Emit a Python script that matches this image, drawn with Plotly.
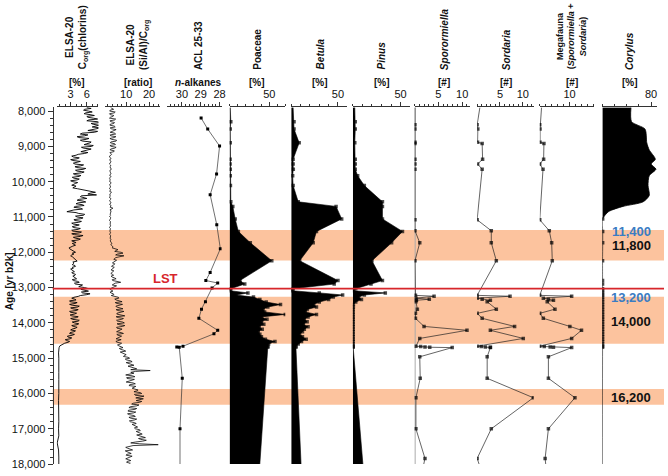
import plotly.graph_objects as go

W, H = 668, 476

# ---------------- DATA ----------------
# ELSA-20 Corg (chlorins) [%]: samples every 50 yr from 7900, plus offset samples from 7925
corg_start = 7900
corg_vals = [
    6.0, 5.6, 6.3, 5.8, 6.6, 6.0, 7.2, 6.4, 7.9, 6.8,
    8.3, 7.0, 7.8, 6.2, 7.4, 4.8, 5.6, 4.5, 5.9, 5.2,
    6.6, 5.5, 6.9, 5.4, 6.3, 4.9, 5.6, 4.0, 3.5, 4.2,
    3.4, 4.3, 3.8, 4.9, 4.1, 5.3, 4.2, 5.0, 3.7, 4.6,
    3.6, 4.2, 3.4, 3.9, 3.2, 3.7, 4.3, 5.9, 7.6, 6.2,
    5.0, 5.6, 4.6, 5.3, 4.4, 5.1, 3.9, 4.8, 3.6, 2.3,
    4.5, 5.4, 4.2, 4.8, 3.8, 4.5, 3.5, 4.1, 3.6, 4.4,
    3.4, 4.6, 3.7, 4.8, 3.9, 4.4, 3.6, 3.3, 3.9, 3.1,
    2.8, 3.4, 3.9, 3.6, 3.0, 3.5, 3.8, 4.2, 3.6, 3.3,
    3.9, 3.5, 3.2, 3.7, 3.4, 3.8, 3.6, 4.1, 3.5, 4.6,
    3.9, 4.8, 5.6, 4.9, 6.3, 5.2, 6.0, 4.4, 3.2, 4.0,
    2.9, 3.8, 3.3, 4.3, 3.4, 4.0, 3.0, 3.7, 3.2, 4.1,
    3.4, 4.4, 3.7, 4.2, 3.5, 3.9, 3.0, 3.6, 2.8, 3.3,
    2.5, 2.9, 2.2, 2.5, 1.6, 1.0, 0.85, 0.8, 0.8, 0.75,
]
corg_mid_start = 7925
corg_mid = [
    6.8, 5.4, 7.0, 5.5, 7.4, 6.2, 8.0, 6.0, 8.6, 7.2,
    7.4, 8.6, 6.5, 8.0, 5.2, 6.2, 4.2, 6.4, 4.8, 6.8,
    6.0, 7.2, 5.0, 6.8, 5.6, 6.2, 4.4, 3.2, 4.6, 3.0,
    4.8, 3.5, 5.4, 3.8, 5.8, 3.9, 5.5, 3.5, 4.9, 3.3,
    4.6, 3.0, 4.3, 3.5, 4.0, 3.4, 5.0, 7.0, 6.6, 7.8,
    4.8, 6.0, 4.2, 5.8, 4.0, 5.5, 3.6, 5.2, 2.8, 4.0,
    5.6, 3.9, 5.3, 3.6, 5.0, 3.2, 4.6, 3.3, 4.8, 3.2,
    5.0, 3.2, 5.3, 3.5, 4.8, 3.2, 4.0, 3.6, 3.4, 2.7,
    3.1, 3.6, 3.3, 3.2, 3.3, 3.7, 4.0, 3.4, 3.5, 3.8,
    3.3, 3.0, 3.5, 3.2, 3.9, 3.4, 3.9, 3.3, 4.3, 3.7,
    5.2, 4.5, 6.2, 5.5, 5.0, 6.6, 4.8, 3.6, 3.7, 2.8,
    4.2, 2.8, 4.6, 3.0, 4.4, 2.8, 4.1, 2.9, 4.4, 3.0,
    4.6, 3.3, 4.5, 3.2, 4.2, 3.3, 3.9, 2.9, 3.7, 2.4,
    3.2, 2.0, 2.8, 1.9, 1.3,
]
corg_tail_start = 15000
corg_tail = [0.8, 0.75, 0.8, 0.8, 0.85, 0.8, 0.75, 0.8, 0.8, 0.8, 0.75, 0.8, 0.5, 0.75, 0.8, 0.8]

# ELSA-20 (Si/Al)/Corg [ratio]: samples every 50 yr from 7900, plus offset samples from 7925
si_start = 7900
si_vals = [
    3.2, 4.5, 2.8, 4.8, 3.0, 4.2, 2.7, 5.0, 3.3, 4.6,
    2.9, 5.2, 3.4, 4.4, 3.0, 5.4, 3.2, 4.8, 3.6, 5.6,
    3.1, 5.3, 3.4, 5.0, 3.0, 4.6, 3.1, 3.3, 2.8, 3.4,
    2.9, 3.2, 2.7, 3.3, 3.0, 3.5, 2.8, 3.2, 2.9, 3.4,
    2.7, 3.1, 2.8, 3.3, 2.9, 3.2, 2.7, 3.0, 3.6, 2.8,
    3.1, 2.7, 3.2, 2.9, 3.4, 2.8, 3.1, 4.2, 2.9, 3.3,
    2.8, 3.2, 2.9, 3.1, 2.7, 3.0, 2.8, 3.2, 2.7, 3.0,
    2.9, 3.2, 2.8, 3.1, 3.0, 3.4, 3.1, 3.8, 3.5, 4.3,
    4.8, 5.6, 7.8, 6.2, 9.0, 5.5, 4.6, 5.3, 4.0, 4.8,
    3.6, 4.4, 3.4, 4.2, 3.3, 4.5, 3.8, 5.6, 4.1, 7.6,
    4.5, 5.8, 3.6, 3.0, 4.2, 3.3, 4.6, 5.2, 6.8, 5.6,
    8.2, 6.0, 7.4, 5.8, 8.6, 6.3, 7.8, 5.9, 9.4, 6.5,
    8.0, 6.2, 9.2, 6.8, 8.4, 6.0, 7.6, 5.8, 8.8, 6.4,
    7.2, 5.6, 7.0, 6.1, 7.4, 6.8, 8.6, 7.6, 9.8, 8.2,
    10.0, 8.8, 11.5, 10.2, 12.6, 11.0, 13.4, 11.8, 14.6, 20.5,
    12.0, 10.6, 12.8, 10.2, 13.6, 11.0, 13.0, 11.6, 14.2, 12.6,
    15.2, 13.4, 16.8, 14.0, 15.6, 17.5, 14.4, 15.8, 12.4, 14.6,
    11.2, 13.8, 10.8, 13.2, 11.4, 14.0, 12.0, 13.6, 11.8, 14.4,
    13.2, 15.0, 14.0, 16.2, 15.2, 17.0, 15.8, 18.4, 16.4, 17.2,
    12.0, 24.0, 11.0, 10.6, 12.8, 10.4, 12.2, 10.0, 11.6, 9.8,
    12.0, 10.2, 11.4,
]
si_mid_start = 7925
si_mid = [
    4.0, 3.0, 5.2, 2.7, 4.6, 3.1, 5.4, 2.9, 4.9, 3.0,
    4.8, 3.0, 5.6, 3.2, 4.9, 3.0, 5.5, 2.9, 5.8, 3.3,
    5.0, 2.9, 5.6, 3.2, 4.8, 2.9, 3.6, 2.7, 3.2, 2.8,
    3.4, 2.8, 3.1, 2.9, 3.3, 2.9, 3.0, 3.4, 2.8, 3.1,
    3.0, 2.9, 3.4, 2.8, 3.0, 2.9, 3.2, 2.8, 3.1, 3.0,
    2.9, 3.3, 2.8, 3.2, 2.9, 3.4, 3.0, 3.1, 3.4, 2.9,
    3.0, 2.8, 3.3, 2.9, 3.1, 2.9, 3.0, 2.8, 3.1, 2.8,
    3.0, 2.9, 3.2, 2.9, 3.2, 3.0, 3.5, 3.3, 4.0, 3.9,
    6.4, 5.0, 8.6, 5.4, 6.8, 4.9, 5.8, 4.3, 5.0, 3.9,
    4.8, 3.7, 4.6, 3.5, 4.0, 3.4, 4.9, 3.9, 6.0, 5.2,
    3.9, 4.6, 3.2, 3.8, 3.0, 4.4, 3.5, 6.6, 5.0, 7.6,
    5.2, 8.4, 5.5, 7.2, 5.6, 9.0, 6.0, 7.4, 5.6, 8.8,
    5.8, 8.4, 6.0, 9.4, 5.8, 8.2, 6.4, 7.8, 5.9, 8.0,
    6.4, 7.8, 5.5, 8.0, 6.2, 8.0, 7.0, 9.0, 7.4, 9.4,
    9.2, 10.8, 9.6, 12.0, 10.0, 12.4, 10.8, 13.0, 12.0, 14.0,
    13.4, 9.8, 13.8, 10.4, 12.2, 10.0, 14.0, 11.2, 13.4, 13.8,
    14.6, 16.2, 13.6, 17.8, 14.2, 15.0, 16.8, 13.2, 15.6, 11.8,
    14.6, 11.0, 14.2, 10.6, 13.4, 11.2, 14.6, 11.4, 13.6, 12.6,
    14.4, 13.6, 15.8, 14.4, 16.6, 14.6, 16.8, 15.4, 18.8, 14.0,
    16.0, 13.0, 9.8, 11.8, 9.6, 11.6, 10.2, 12.6, 10.8, 11.0,
    10.4, 11.8,
]

# ACL 25-33 n-alkanes
acl_age = [8195, 8510, 8990, 9780, 10370, 11220, 11900, 12570, 12800, 12870, 13010,
           13400, 13610, 13870, 14210, 14310, 14660, 14680, 14690, 15570, 17000, 18400]
acl_val = [28.98, 28.63, 28.0, 28.16, 28.5, 28.15, 27.96, 28.5, 28.73, 28.1, 28.4,
           28.75, 28.96, 29.1, 28.1, 28.3, 29.94, 30.27, 30.14, 29.98, 30.1, 30.1]

# Pollen (Poaceae, Betula, Pinus) [%]
pol_age = [7900, 8300, 8510, 8900, 9365, 9500, 9645, 9830, 10110, 10570, 10700, 11055,
           11410, 11730, 12240, 12800, 12900,
           13030, 13090, 13150, 13210, 13270, 13340, 13410, 13480, 13550, 13620,
           13690, 13760, 13830, 13900, 13970, 14040, 14110, 14180, 14250, 14320,
           14390, 14460, 14530, 14600, 14660, 14690, 18000]
poaceae = [0.8, 1.5, 0.8, 0.8, 0.6, 0.6, 0.8, 0.8, 1.0, 1.5, 4, 7, 11, 26, 53, 13, 19,
           1.5, 1.0, 23, 8, 30, 38, 46, 64, 48, 42,
           44, 70, 40, 47, 40, 43, 37, 41, 36, 38,
           40, 45, 57, 49, 48, 48, 38]
betula = [2, 3, 3, 8.5, 2, 2, 2.2, 1.5, 2, 7.5, 48, 54, 27, 23.5, 9, 50, 46,
          2, 1.5, 30, 55, 45, 40, 30, 24, 27, 17,
          15, 27, 18, 14, 17, 13, 18, 14, 12, 9,
          12, 16, 11, 7.5, 5, 5, 10.5]
pinus = [2, 2.5, 2.5, 2, 2.5, 2.5, 2.5, 5, 12, 31, 31, 31, 52, 40.6, 20, 31, 19,
         3, 1, 34, 12, 6, 9, 3, 0.5, 0.5, 0.3,
         0.3, 0.3, 0.3, 0.3, 0.3, 0.3, 0.3, 0.3, 0.3, 0.3,
         0.3, 0.3, 0.3, 0.3, 0.3, 0.3, 10.5]

# Corylus [%]
cor_age = [7900, 8300, 8510, 8900, 9100, 9365, 9500, 9645, 9830, 10110, 10390, 10570,
           10700, 10850, 11055, 11410, 11730, 12240, 12800, 12900,
           13030, 13090, 13150, 13210, 13270, 13340, 13410, 13480, 13550, 13620,
           13690, 13760, 13830, 13900, 13970, 14040, 14110, 14180, 14250, 14320,
           14390, 14460, 14530, 14600, 14660, 14690, 18000]
corylus = [47, 48, 70, 73, 77, 87, 80, 88, 77, 75, 77, 67,
           34, 10, 0.5, 0.5, 0.5, 0.3, 0.3, 0.3,
           0.3, 0.3, 0.3, 0.3, 0.3, 0.3, 0.3, 0.3, 0.3, 0.3,
           0.3, 0.3, 0.3, 0.3, 0.3, 0.3, 0.3, 0.3, 0.3, 0.3,
           0.3, 0.3, 0.3, 0.3, 0.3, 0.3, 0.0]

# Spores [#]
spore_age = [7900, 8390, 8510, 8880, 8920, 9365, 9500, 9645, 11080, 11390, 11730, 12240,
             13220, 13245, 13300, 13330, 13360, 13400, 13610, 13730, 13870, 14100, 14210, 14440,
             14660, 14670, 14680, 14690, 14700, 14960, 15570, 16120, 17000, 17840, 18400]
sporormiella = [0.1, 0.1, 0.1, 0.1, 0.1, 0.1, 0.1, 0.1, 0.1, 0.1, 1.1, 0.1,
                0.2, 4.1, 0.3, 3.1, 0.4, 0.3, 0.6, 0.2, 0.2, 2.0, 11.0, 1.1,
                0.3, 1.3, 2.2, 3.2, 7.9, 1.1, 1.2, 0.3, 0.3, 2.2, 1.3]
sordaria = [0.6, 0.0, 0.15, 0.1, 1.1, 1.2, 0.1, 1.1, 0.0, 3.1, 3.1, 4.2,
            0.0, 7.2, 0.0, 1.1, 2.9, 2.2, 4.2, 0.0, 1.1, 8.2, 2.9, 10.1,
            0.0, 0.9, 1.8, 2.9, 2.9, 2.2, 2.2, 12.3, 3.1, 0.0, 1.5]
megafauna = [0.6, 0.0, 0.1, 0.1, 1.4, 1.3, 0.0, 1.1, 0.0, 3.2, 4.0, 4.2,
             0.0, 10.7, 1.2, 2.9, 4.6, 2.5, 5.1, 0.0, 1.2, 10.1, 14.0, 10.7,
             0.0, 1.5, 3.5, 4.6, 10.7, 2.9, 2.9, 11.8, 2.9, 1.8, 2.5]

# Highlighted intervals and labels
bands = [(11370, 12230), (13260, 14590), (15870, 16320)]
lst_age = 13030
band_labels = [("11,400", 11400, "#3a7cc3"), ("11,800", 11810, "#111111"),
               ("13,200", 13290, "#3a7cc3"), ("14,000", 13960, "#111111"),
               ("16,200", 16100, "#111111")]

titles = ["ELSA-20<br>C<sub>org</sub>(chlorins)", "ELSA-20<br>(Si/Al)/C<sub>org</sub>", "ACL 25-33",
          "Poaceae", "<i>Betula</i>", "<i>Pinus</i>", "<i>Sporormiella</i>", "<i>Sordaria</i>",
          "Megafauna<br>(<i>Sporormiella</i> +<br><i>Sordaria</i>)", "<i>Corylus</i>"]
units = ["[%]", "[ratio]", "<i>n</i>-alkanes", "[%]", "[%]", "[%]", "[#]", "[#]", "[#]", "[%]"]

# ---------------- LAYOUT CONFIG ----------------
FONT = "Liberation Sans, Arial, sans-serif"
panels = [  # px left, px right, range, tickvals, minor dtick, label centre px, title size
    (57, 99, [0.4, 8.15], [3, 6], 1, 77, 10),
    (106, 161, [0.9, 24.8], [10, 20], 2, 139, 10),
    (168, 223, [30.79, 27.89], [30, 29, 28], 0.2, 200, 10),
    (231, 287, [0, 70], [50], 10, 259, 10),
    (293, 349, [0, 59.6], [50], 10, 322, 10),
    (355, 412, [0, 59.4], [50], 10, 384, 10),
    (417, 473, [0, 11.67], [5, 10], 1, 447, 10),
    (480, 537, [0, 12.4], [5, 10], 1, 509, 10),
    (543, 598, [0, 18.33], [10], 2, 575, 9),
    (606, 661, [0, 89.8], [80], 20, 634, 10),
]
Y_TOP, Y_BOT = 107, 470
Y_RANGE = [18000, 7890]
AX_X = 53


def px(x):
    return x / W


def py(y):
    return 1 - y / H


def merged(start_a, vals_a, step_a, start_b, vals_b, step_b):
    pts = [(start_a + step_a * i, v) for i, v in enumerate(vals_a)]
    pts += [(start_b + step_b * i, v) for i, v in enumerate(vals_b)]
    pts.sort()
    return [p[0] for p in pts], [p[1] for p in pts]


fig = go.Figure()

corg_age, corg_x = merged(corg_start, corg_vals, 50, corg_mid_start, corg_mid, 50)
corg_age += [corg_tail_start + 200 * i for i in range(len(corg_tail))]
corg_x += corg_tail
si_age, si_x = merged(si_start, si_vals, 50, si_mid_start, si_mid, 50)

mk = dict(symbol="square", size=3, color="black", line=dict(width=0))

fig.add_trace(go.Scatter(x=corg_x, y=corg_age, mode="lines",
                         line=dict(color="black", width=0.9), xaxis="x", yaxis="y"))
fig.add_trace(go.Scatter(x=si_x, y=si_age, mode="lines",
                         line=dict(color="black", width=0.75), xaxis="x2", yaxis="y"))
fig.add_trace(go.Scatter(x=acl_val, y=acl_age, mode="lines+markers",
                         line=dict(color="#333", width=0.7), marker=mk, xaxis="x3", yaxis="y"))

pol_sizes = [0] + [3.5] * (len(pol_age) - 2) + [0]
for i, vals in enumerate([poaceae, betula, pinus]):
    fig.add_trace(go.Scatter(x=vals, y=pol_age, mode="lines+markers", fill="tozerox",
                             fillcolor="black", line=dict(color="black", width=0.6),
                             marker=dict(symbol="square", size=pol_sizes, color="black",
                                         line=dict(width=0)),
                             xaxis=f"x{4 + i}", yaxis="y"))

sp_sizes = [0] + [3.5] * (len(spore_age) - 2) + [0]
for i, vals in enumerate([sporormiella, sordaria, megafauna]):
    fig.add_trace(go.Scatter(x=vals, y=spore_age, mode="lines+markers",
                             line=dict(color="#222", width=0.7),
                             marker=dict(symbol="square", size=sp_sizes, color="black",
                                         line=dict(width=0)),
                             xaxis=f"x{7 + i}", yaxis="y"))

cor_sizes = [0 if (a < 11000 or a > 15000) else 3.5 for a in cor_age]
fig.add_trace(go.Scatter(x=corylus, y=cor_age, mode="lines+markers", fill="tozerox",
                         fillcolor="black", line=dict(color="black", width=0.8, shape="spline", smoothing=0.7),
                         marker=dict(symbol="square", size=cor_sizes, color="black", line=dict(width=0)),
                         xaxis="x10", yaxis="y"))

layout = dict(
    width=W, height=H, margin=dict(l=0, r=0, t=0, b=0),
    paper_bgcolor="white", plot_bgcolor="rgba(0,0,0,0)",
    showlegend=False, font=dict(family=FONT, size=10, color="#111"),
)
for i, (x0, x1, rng, tv, mdt, cx, ts) in enumerate(panels):
    key = "xaxis" if i == 0 else f"xaxis{i + 1}"
    layout[key] = dict(
        domain=[px(x0), px(x1)], range=rng, anchor="y", side="top",
        tickmode="array", tickvals=tv, ticktext=[str(v) for v in tv],
        ticks="outside", ticklen=4, tickwidth=1, tickcolor="#333",
        showline=True, linecolor="#333", linewidth=1,
        showgrid=False, zeroline=False,
        tickfont=dict(family=FONT, size=11, color="#111"),
        minor=dict(tickmode="linear", tick0=0, dtick=mdt, ticks="outside",
                   ticklen=2.5, tickcolor="#333", showgrid=False),
    )
layout["yaxis"] = dict(
    domain=[py(Y_BOT), py(Y_TOP)], range=Y_RANGE, anchor="free", position=px(AX_X),
    tickmode="array", tickvals=list(range(8000, 18001, 1000)),
    ticktext=[f"{v:,}" for v in range(8000, 18001, 1000)],
    ticks="outside", ticklen=5, tickcolor="#333", showline=True, linecolor="#333",
    linewidth=1, showgrid=False, zeroline=False,
    tickfont=dict(family=FONT, size=11, color="#111"),
    minor=dict(tickmode="linear", tick0=0, dtick=200, ticks="outside", ticklen=3,
               tickcolor="#333", showgrid=False),
)
fig.update_layout(**layout)

shapes = []
for a0, a1 in bands:
    shapes.append(dict(type="rect", xref="paper", yref="y", x0=px(AX_X), x1=1, y0=a0, y1=a1,
                       fillcolor="#fcc39e", line=dict(width=0), layer="below"))
shapes.append(dict(type="line", xref="paper", yref="y", x0=px(AX_X), x1=1, y0=lst_age, y1=lst_age,
                   line=dict(color="#d7262b", width=1.6), layer="above"))
shapes.append(dict(type="line", xref="x7", yref="y", x0=0.1, x1=0.1, y0=7890, y1=18000,
                   line=dict(color="#a8a8a8", width=1.3), layer="below"))
fig.update_layout(shapes=shapes)

ann = []
for i, (x0, x1, rng, tv, mdt, cx, ts) in enumerate(panels):
    ann.append(dict(x=px(cx), y=py(71), xref="paper", yref="paper", text=f"<b>{titles[i]}</b>",
                    textangle=-90, showarrow=False, xanchor="center", yanchor="bottom",
                    font=dict(family=FONT, size=ts, color="#111")))
    ann.append(dict(x=px(cx), y=py(82), xref="paper", yref="paper", text=f"<b>{units[i]}</b>",
                    showarrow=False, xanchor="center", yanchor="middle",
                    font=dict(family=FONT, size=10, color="#111")))
ann.append(dict(x=px(9), y=py(284), xref="paper", yref="paper", text="<b>Age [yr b2k]</b>",
                textangle=-90, showarrow=False, xanchor="center", yanchor="middle",
                font=dict(family=FONT, size=10, color="#111")))
ann.append(dict(x=px(166), y=lst_age, xref="paper", yref="y", text="<b>LST</b>",
                showarrow=False, xanchor="center", yanchor="bottom", yshift=1,
                font=dict(family=FONT, size=13, color="#d7262b")))
for txt, age, col in band_labels:
    ann.append(dict(x=px(657), y=age, xref="paper", yref="y", text=f"<b>{txt}</b>",
                    showarrow=False, xanchor="right", yanchor="middle",
                    font=dict(family=FONT, size=13, color=col)))
fig.update_layout(annotations=ann)

fig.write_html("out.html", config={"displayModeBar": False},
               post_script="document.body.style.margin='0';document.body.style.padding='0';")
